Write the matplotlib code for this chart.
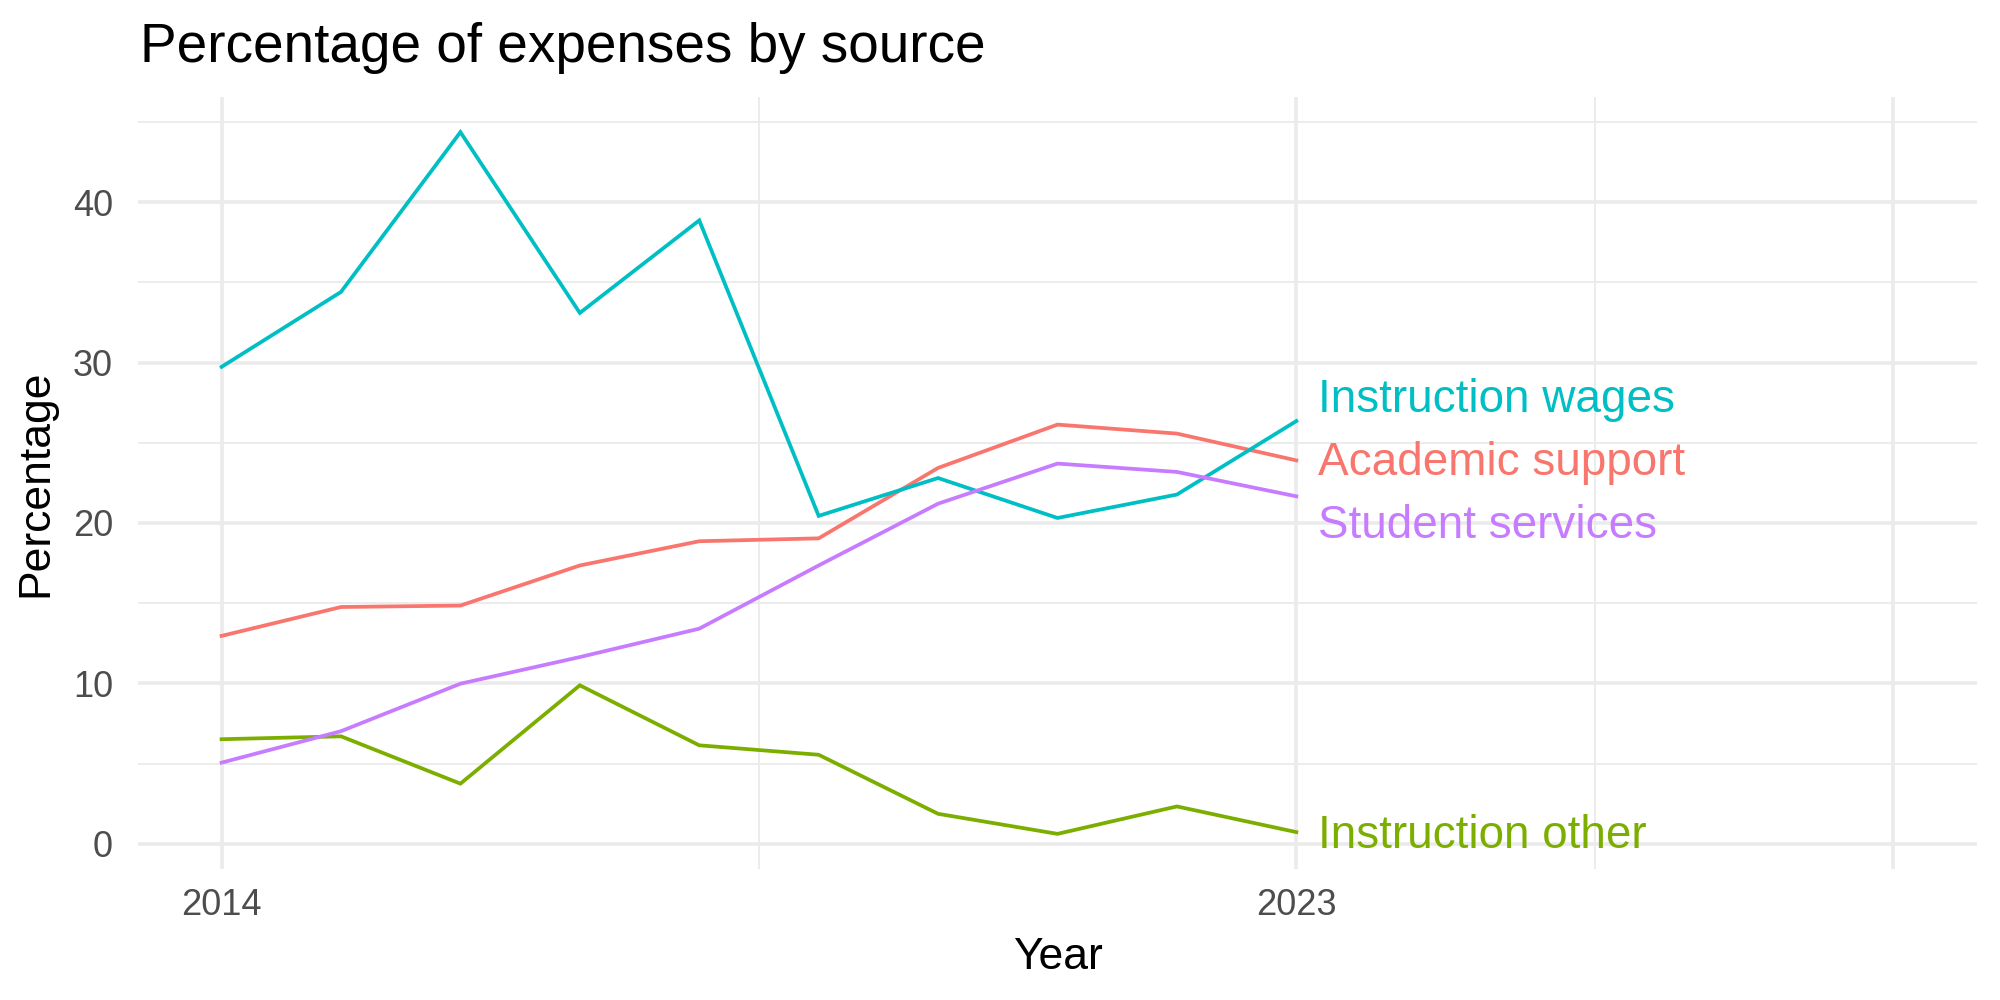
import matplotlib
matplotlib.use("Agg")
import matplotlib.pyplot as plt

plt.rcParams["font.family"] = ["Liberation Sans", "DejaVu Sans"]

years = [2014, 2015, 2016, 2017, 2018, 2019, 2020, 2021, 2022, 2023]

academic_support = [12.96, 14.76, 14.85, 17.35, 18.86, 19.04, 23.43, 26.13, 25.57, 23.90]
instruction_other = [6.52, 6.70, 3.75, 9.88, 6.14, 5.55, 1.87, 0.62, 2.33, 0.73]
instruction_wages = [29.73, 34.40, 44.36, 33.09, 38.86, 20.44, 22.80, 20.31, 21.77, 26.35]
student_services = [5.06, 7.02, 9.98, 11.64, 13.41, 17.35, 21.20, 23.70, 23.18, 21.66]

series_names = ["Academic support", "Instruction other", "Instruction wages", "Student services"]
series_values = [academic_support, instruction_other, instruction_wages, student_services]

# ggplot hue palette
colors = ["#F8766D", "#7CAE00", "#00BFC4", "#C77CFF"]

# repelled label baselines (layout)
label_y = [23.0, -0.26, 26.9, 19.06]

x_major = [2014, 2023, 2028]
x_major_labels = ["2014", "2023", ""]
x_minor = [2018.5, 2025.5]
y_major = [0, 10, 20, 30, 40]
y_minor = [5, 15, 25, 35, 45]

grid_col = "#EBEBEB"


def plot():
    fig = plt.figure(figsize=(20, 10), dpi=100)
    ax = fig.add_axes([138 / 2000, 1 - 869 / 1000, (1977 - 138) / 2000, (869 - 97) / 1000])

    ax.set_xlim(2013.3, 2028.7)
    ax.set_ylim(-1.57, 46.55)

    for v in y_minor:
        ax.axhline(v, color=grid_col, lw=1.3, zorder=0)
    for v in x_minor:
        ax.axvline(v, color=grid_col, lw=1.3, zorder=0)
    for v in y_major:
        ax.axhline(v, color=grid_col, lw=2.6, zorder=0)
    for v in x_major:
        ax.axvline(v, color=grid_col, lw=2.6, zorder=0)

    for name, vals, col, ly in zip(series_names, series_values, colors, label_y):
        ax.plot(years, vals, color=col, lw=2.7, solid_joinstyle="miter", zorder=2)
        ax.text(years[-1] + 0.18, ly, name, color=col, fontsize=33,
                ha="left", va="baseline", zorder=3)

    ax.set_xticks(x_major)
    ax.set_xticklabels(x_major_labels)
    ax.set_yticks(y_major)
    ax.tick_params(length=0, labelsize=26, labelcolor="#4D4D4D")
    ax.tick_params(axis="x", pad=14)
    ax.tick_params(axis="y", pad=18)
    for s in ax.spines.values():
        s.set_visible(False)

    ax.set_xlabel("Year", fontsize=32, labelpad=10)
    ax.set_ylabel("Percentage", fontsize=32, labelpad=12)
    fig.text(140 / 2000, 1 - 62 / 1000, "Percentage of expenses by source",
             fontsize=39.5, ha="left", va="baseline")

    fig.savefig("out.png", dpi=100, facecolor="white")


if __name__ == "__main__":
    plot()
